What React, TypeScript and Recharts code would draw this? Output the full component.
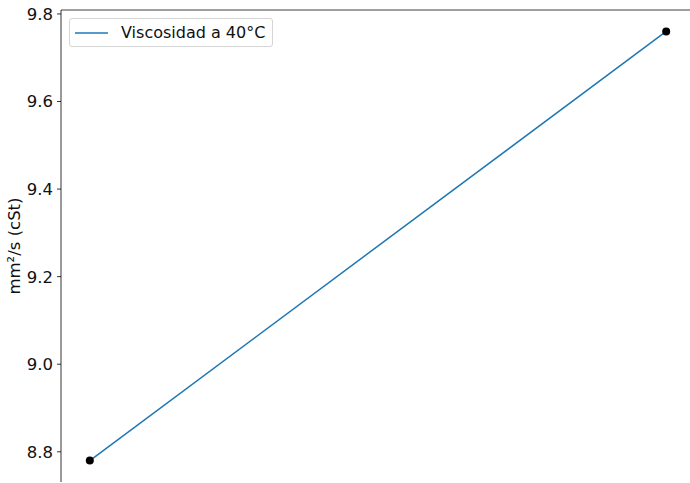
import { LineChart, Line, XAxis, YAxis, ReferenceLine } from "recharts";

// two measurements, no x tick labels in the original
const positions = [0, 1];
const viscosity = [8.78, 9.76];
const yTicks = [8.8, 9.0, 9.2, 9.4, 9.6, 9.8];
const seriesName = "Viscosidad a 40°C";

const Y_MIN = 8.731;
const Y_MAX = 9.809;

const data = positions.map((x, i) => ({ x, v: viscosity[i] }));

const FONT = "'DejaVu Sans', sans-serif";

function LegendBox() {
  return (
    <div
      style={{
        position: "absolute",
        left: 69,
        top: 18,
        height: 29,
        boxSizing: "border-box",
        display: "flex",
        alignItems: "center",
        border: "1px solid #d5d5d5",
        borderRadius: 3,
        background: "rgba(255,255,255,0.8)",
        padding: "0 7px 0 5px",
        fontFamily: FONT,
        fontSize: 16,
        color: "#111",
        whiteSpace: "nowrap",
      }}
    >
      <svg width={34} height={10} style={{ marginRight: 12 }}>
        <line x1={0} y1={5} x2={33} y2={5} stroke="#1f77b4" strokeWidth={1.5} />
      </svg>
      <span>{seriesName}</span>
    </div>
  );
}

export default function App() {
  return (
    <div style={{ position: "absolute", left: 0, top: 0, background: "#fff" }}>
      <LineChart
        width={700}
        height={490}
        data={data}
        margin={{ top: 10, right: 5, bottom: 8, left: 0 }}
      >
        <XAxis
          dataKey="x"
          type="number"
          domain={[-0.05, 1.05]}
          tick={false}
          tickLine={false}
          height={0}
          axisLine={{ stroke: "#ececec", strokeWidth: 1 }}
        />
        <YAxis
          type="number"
          domain={[Y_MIN, Y_MAX]}
          ticks={yTicks}
          tickFormatter={(v: number) => v.toFixed(1)}
          width={61}
          allowDataOverflow
          axisLine={{ stroke: "#000", strokeWidth: 0.8 }}
          tickLine={{ stroke: "#000", strokeWidth: 0.8 }}
          tickSize={4}
          tickMargin={4}
          tick={{ fill: "#111", fontSize: 16.5, fontFamily: FONT }}
          label={{
            value: "mm²/s (cSt)",
            angle: -90,
            position: "insideLeft",
            offset: 14,
            style: { fill: "#111", fontSize: 16.5, fontFamily: FONT, textAnchor: "middle" },
          }}
        />
        <ReferenceLine y={Y_MAX} stroke="#808080" strokeWidth={1.5} ifOverflow="visible" />
        <Line
          dataKey="v"
          name={seriesName}
          stroke="#1f77b4"
          strokeWidth={1.5}
          dot={{ r: 4, fill: "#000", stroke: "#000", strokeWidth: 0 }}
          activeDot={false}
          isAnimationActive={false}
        />
      </LineChart>
      <LegendBox />
    </div>
  );
}
